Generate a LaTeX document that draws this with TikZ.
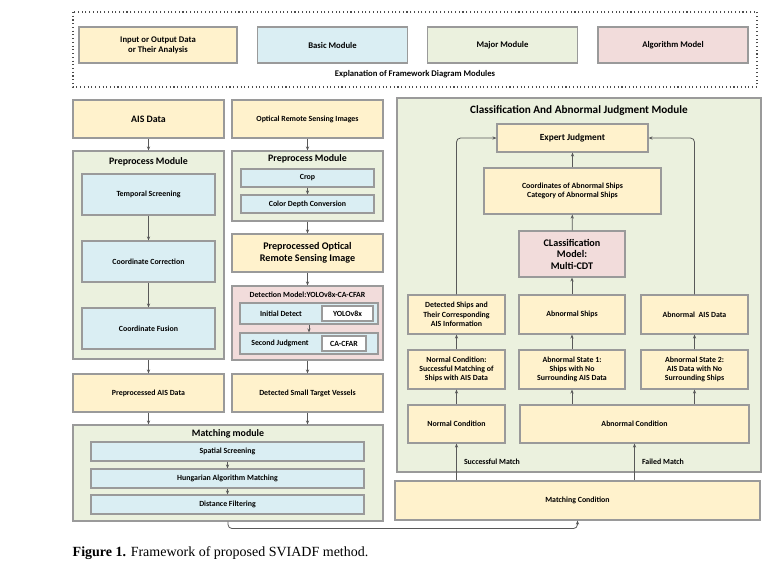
\documentclass[tikz,border=0pt]{standalone}
\usepackage{fontspec}
\newfontfamily\carl{Carlito}
\newfontfamily\capf{Liberation Serif}
\usetikzlibrary{arrows.meta,positioning,calc}
\definecolor{yelF}{HTML}{FFF2CC}
\definecolor{bluF}{HTML}{DAEEF3}
\definecolor{grnF}{HTML}{EBF1DE}
\definecolor{pnkF}{HTML}{F2DCDB}
\definecolor{edgeG}{HTML}{9A9A9A}
\tikzset{
  sz/.style 2 args={minimum width=#1*0.75pt, minimum height=#2*0.75pt},
  box/.style={draw=edgeG, thick, fill=#1, inner sep=1pt, align=center,
    font=\carl\fontsize{5.9}{7}\selectfont\bfseries},
  ttl/.style={font=\carl\fontsize{7.4}{8.6}\selectfont\bfseries, align=center},
  lbl/.style={font=\carl\fontsize{5.9}{7}\selectfont\bfseries},
  arr/.style={-{Stealth[length=3pt,width=2.4pt]}, draw=black!65, semithick},
}
\begin{document}
\begin{tikzpicture}[x=0.75pt, y=-0.75pt]
\useasboundingbox (0,0) rectangle (770,569);

% legend
\draw[dotted, thick, black!70] (73,12) rectangle (757,87);
\node (legIO) [box=yelF, sz={158}{36}, font=\carl\fontsize{6.5}{7.6}\selectfont\bfseries] at (158,45) {Input or Output Data\\or Their Analysis};
\node (legBas) [box=bluF, sz={150}{36}, font=\carl\fontsize{6.5}{7.6}\selectfont\bfseries] at (332.5,45) {Basic Module};
\node (legMaj) [box=grnF, sz={150}{36}, font=\carl\fontsize{6.5}{7.6}\selectfont\bfseries] at (502.5,45) {Major Module};
\node (legAlg) [box=pnkF, sz={150}{36}, font=\carl\fontsize{6.5}{7.6}\selectfont\bfseries] at (673,45) {Algorithm Model};
\node (legT) [lbl, font=\carl\fontsize{6.5}{7.6}\selectfont\bfseries] at (415,74) {Explanation of Framework Diagram Modules};

% left column: AIS branch
\node (ais) [box=yelF, sz={151}{38}, font=\carl\fontsize{7.4}{8.6}\selectfont\bfseries] at (148.5,119) {AIS Data};
\node (preL) [box=grnF, sz={151}{208}] at (148.5,255) {};
\node (preLt) [ttl] at (148.5,162) {Preprocess Module};
\node (temp) [box=bluF, sz={133}{41}] at (148.5,194.5) {Temporal Screening};
\node (corr) [box=bluF, sz={133}{41}] at (148.5,261.5) {Coordinate Correction};
\node (fus) [box=bluF, sz={133}{41}] at (148.5,328.5) {Coordinate Fusion};
\node (ppais) [box=yelF, sz={151}{38}] at (148.5,393) {Preprocessed AIS Data};

% optical branch
\node (opt) [box=yelF, sz={151}{38}] at (307.5,119) {Optical Remote Sensing Images};
\node (preR) [box=grnF, sz={151}{70}] at (307.5,186) {};
\node (preRt) [ttl] at (307.5,159) {Preprocess Module};
\node (crop) [box=bluF, sz={133}{18}] at (307.5,178) {Crop};
\node (cdc) [box=bluF, sz={133}{18}] at (307.5,204) {Color Depth Conversion};
\node (ppo) [box=yelF, sz={151}{38}, font=\carl\fontsize{7.6}{8.8}\selectfont\bfseries] at (307.5,253) {Preprocessed Optical\\Remote Sensing Image};
\node (det) [box=pnkF, sz={151}{74}] at (307.5,323) {};
\node (dett) [lbl] at (307.5,295) {Detection Model:YOLOv8x-CA-CFAR};
\node (init) [box=bluF, sz={138}{21}] at (309,313.5) {};
\node (initT) [lbl] at (281,313.5) {Initial Detect};
\node (yolo) [box=white, sz={51}{15}] at (347.5,313.5) {YOLOv8x};
\node (sec) [box=bluF, sz={138}{21}] at (309,343.5) {};
\node (secT) [lbl] at (280,343.5) {Second Judgment};
\node (cfar) [box=white, sz={44}{15}] at (344,343.5) {CA-CFAR};
\node (dsv) [box=yelF, sz={151}{38}] at (307.5,393) {Detected Small Target Vessels};

% matching module
\node (match) [box=grnF, sz={310}{96}] at (228,473) {};
\node (matcht) [ttl] at (228,434) {Matching module};
\node (spat) [box=bluF, sz={273}{19}] at (227.5,451.5) {Spatial Screening};
\node (hung) [box=bluF, sz={273}{19}] at (227.5,478.5) {Hungarian Algorithm Matching};
\node (dist) [box=bluF, sz={273}{19}] at (227.5,504.5) {Distance Filtering};

% classification and abnormal judgment module
\node (cls) [box=grnF, sz={364}{374}] at (579,285) {};
\node (clst) [ttl, font=\carl\fontsize{8.4}{10}\selectfont\bfseries] at (579,111) {Classification And Abnormal Judgment Module};
\node (expert) [box=yelF, sz={151}{28}, font=\carl\fontsize{7}{8.2}\selectfont\bfseries] at (572.5,138) {Expert Judgment};
\node (coord) [box=yelF, sz={177}{46}] at (572.5,191) {Coordinates of Abnormal Ships\\Category of Abnormal Ships};
\node (cdt) [box=pnkF, sz={106}{46}, font=\carl\fontsize{7.6}{8.6}\selectfont\bfseries] at (572,254) {CLassification\\Model:\\Multi-CDT};
\node (dship) [box=yelF, sz={97}{39}] at (456.5,314.5) {Detected Ships and\\Their Corresponding\\AIS Information};
\node (abship) [box=yelF, sz={106}{39}] at (572,314.5) {Abnormal Ships};
\node (abais) [box=yelF, sz={107}{39}] at (694.5,314.5) {Abnormal \ AIS Data};
\node (ncond) [box=yelF, sz={97}{39}] at (456.5,369.5) {Normal Condition:\\Successful Matching of\\Ships with AIS Data};
\node (st1) [box=yelF, sz={106}{39}] at (572,369.5) {Abnormal State 1:\\Ships with No\\Surrounding AIS Data};
\node (st2) [box=yelF, sz={107}{39}] at (694.5,369.5) {Abnormal State 2:\\AIS Data with No\\Surrounding Ships};
\node (norm) [box=yelF, sz={97}{38}] at (456.5,424) {Normal Condition};
\node (abn) [box=yelF, sz={229}{38}] at (634.5,424) {Abnormal Condition};
\node (mc) [box=yelF, sz={365}{39}] at (577.5,500.5) {Matching Condition};

% connectors, left side
\draw[arr] (ais) -- (preL);
\draw[arr] (temp) -- (corr);
\draw[arr] (corr) -- (fus);
\draw[arr] (preL) -- (ppais);
\draw[arr] (ppais.south) -- (ppais.south |- match.north);
\draw[arr] (opt) -- (preR);
\draw[arr] (crop) -- (cdc);
\draw[arr] (preR) -- (ppo);
\draw[arr] (ppo) -- (det);
\draw[arr] (init) -- (sec);
\draw[arr] (det) -- (dsv);
\draw[arr] (dsv.south) -- (dsv.south |- match.north);
\draw[arr] (spat) -- (hung);
\draw[arr] (hung) -- (dist);
\draw[arr, rounded corners=3pt] (match.south) -- ++(0,7) -| (mc.south);

% connectors, right side
\draw[arr] (norm.south |- mc.north) -- (norm.south)
  node (sucm) [lbl, pos=0.5, right=2pt] {Successful Match};
\draw[arr] (abn.south |- mc.north) -- (abn.south)
  node (failm) [lbl, pos=0.5, right=2pt] {Failed Match};
\draw[arr] (norm) -- (ncond);
\draw[arr] (st1.south |- abn.north) -- (st1.south);
\draw[arr] (st2.south |- abn.north) -- (st2.south);
\draw[arr] (ncond) -- (dship);
\draw[arr] (st1) -- (abship);
\draw[arr] (st2) -- (abais);
\draw[arr] (abship) -- (cdt);
\draw[arr] (cdt) -- (coord);
\draw[arr] (coord) -- (expert);
\draw[arr, rounded corners=3pt] (dship.north) |- (expert.west);
\draw[arr, rounded corners=3pt] (abais.north) |- (expert.east);

% caption
\node (cap) [anchor=west, font=\capf\fontsize{10.5}{12}\selectfont] at (68,553) {\textbf{Figure 1.} Framework of proposed SVIADF method.};
\end{tikzpicture}
\end{document}
